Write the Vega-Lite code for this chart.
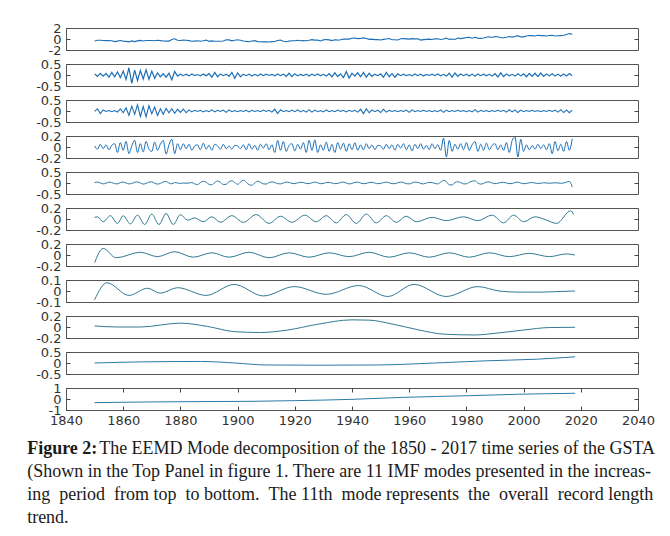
{
"$schema": "https://vega.github.io/schema/vega-lite/v6.json",
"padding": {"top": 21, "left": 27, "right": 5, "bottom": 5},
"background": "white",
"spacing": 14,
"bounds": "flush",
"title": {
  "text": "Figure 2:",
  "subtitle": [
    "\u200b\u00a0\u00a0\u00a0\u00a0\u00a0\u00a0\u00a0\u00a0\u00a0\u00a0\u00a0\u00a0\u00a0\u00a0\u00a0\u00a0The EEMD Mode decomposition of the 1850 - 2017 time series of the GSTA",
    "(Shown in the Top Panel in figure 1. There are 11 IMF modes presented in the increas-",
    "ing \u00a0period \u00a0from top \u00a0to bottom. \u00a0The 11th \u00a0mode represents \u00a0the \u00a0overall \u00a0record length",
    "trend."
  ],
  "orient": "bottom", "anchor": "start", "frame": "bounds", "dx": -8, "offset": 12,
  "font": "Liberation Serif", "fontSize": 18, "fontWeight": "bold", "color": "#1a1a1a", "lineHeight": 23.5,
  "subtitleFont": "Liberation Serif", "subtitleFontSize": 18, "subtitleColor": "#1a1a1a", "subtitleLineHeight": 23.3, "subtitlePadding": -18
},
"datasets": {
"p1": [{"t":1850,"v":-0.37},{"t":1851,"v":-0.22},{"t":1852,"v":-0.23},{"t":1853,"v":-0.27},{"t":1854,"v":-0.29},{"t":1855,"v":-0.3},{"t":1856,"v":-0.32},{"t":1857,"v":-0.47},{"t":1858,"v":-0.39},{"t":1859,"v":-0.28},{"t":1860,"v":-0.39},{"t":1861,"v":-0.43},{"t":1862,"v":-0.53},{"t":1863,"v":-0.34},{"t":1864,"v":-0.48},{"t":1865,"v":-0.34},{"t":1866,"v":-0.26},{"t":1867,"v":-0.36},{"t":1868,"v":-0.27},{"t":1869,"v":-0.27},{"t":1870,"v":-0.28},{"t":1871,"v":-0.33},{"t":1872,"v":-0.23},{"t":1873,"v":-0.29},{"t":1874,"v":-0.35},{"t":1875,"v":-0.39},{"t":1876,"v":-0.38},{"t":1877,"v":-0.1},{"t":1878,"v":0.05},{"t":1879,"v":-0.23},{"t":1880,"v":-0.28},{"t":1881,"v":-0.21},{"t":1882,"v":-0.24},{"t":1883,"v":-0.29},{"t":1884,"v":-0.42},{"t":1885,"v":-0.38},{"t":1886,"v":-0.33},{"t":1887,"v":-0.41},{"t":1888,"v":-0.33},{"t":1889,"v":-0.2},{"t":1890,"v":-0.42},{"t":1891,"v":-0.35},{"t":1892,"v":-0.41},{"t":1893,"v":-0.42},{"t":1894,"v":-0.4},{"t":1895,"v":-0.35},{"t":1896,"v":-0.15},{"t":1897,"v":-0.16},{"t":1898,"v":-0.34},{"t":1899,"v":-0.23},{"t":1900,"v":-0.15},{"t":1901,"v":-0.23},{"t":1902,"v":-0.35},{"t":1903,"v":-0.44},{"t":1904,"v":-0.5},{"t":1905,"v":-0.36},{"t":1906,"v":-0.3},{"t":1907,"v":-0.47},{"t":1908,"v":-0.51},{"t":1909,"v":-0.52},{"t":1910,"v":-0.5},{"t":1911,"v":-0.54},{"t":1912,"v":-0.47},{"t":1913,"v":-0.46},{"t":1914,"v":-0.26},{"t":1915,"v":-0.2},{"t":1916,"v":-0.42},{"t":1917,"v":-0.51},{"t":1918,"v":-0.38},{"t":1919,"v":-0.32},{"t":1920,"v":-0.31},{"t":1921,"v":-0.22},{"t":1922,"v":-0.31},{"t":1923,"v":-0.3},{"t":1924,"v":-0.31},{"t":1925,"v":-0.22},{"t":1926,"v":-0.11},{"t":1927,"v":-0.21},{"t":1928,"v":-0.2},{"t":1929,"v":-0.36},{"t":1930,"v":-0.16},{"t":1931,"v":-0.1},{"t":1932,"v":-0.16},{"t":1933,"v":-0.29},{"t":1934,"v":-0.13},{"t":1935,"v":-0.2},{"t":1936,"v":-0.15},{"t":1937,"v":-0.03},{"t":1938,"v":0.0},{"t":1939,"v":-0.02},{"t":1940,"v":0.13},{"t":1941,"v":0.19},{"t":1942,"v":0.07},{"t":1943,"v":0.09},{"t":1944,"v":0.21},{"t":1945,"v":0.09},{"t":1946,"v":-0.07},{"t":1947,"v":-0.03},{"t":1948,"v":-0.11},{"t":1949,"v":-0.11},{"t":1950,"v":-0.17},{"t":1951,"v":-0.07},{"t":1952,"v":0.01},{"t":1953,"v":0.08},{"t":1954,"v":-0.13},{"t":1955,"v":-0.14},{"t":1956,"v":-0.19},{"t":1957,"v":0.05},{"t":1958,"v":0.06},{"t":1959,"v":0.03},{"t":1960,"v":-0.03},{"t":1961,"v":0.06},{"t":1962,"v":0.03},{"t":1963,"v":0.05},{"t":1964,"v":-0.2},{"t":1965,"v":-0.11},{"t":1966,"v":-0.06},{"t":1967,"v":-0.02},{"t":1968,"v":-0.08},{"t":1969,"v":0.05},{"t":1970,"v":0.03},{"t":1971,"v":-0.08},{"t":1972,"v":0.01},{"t":1973,"v":0.16},{"t":1974,"v":-0.07},{"t":1975,"v":-0.01},{"t":1976,"v":-0.1},{"t":1977,"v":0.18},{"t":1978,"v":0.07},{"t":1979,"v":0.16},{"t":1980,"v":0.26},{"t":1981,"v":0.32},{"t":1982,"v":0.14},{"t":1983,"v":0.31},{"t":1984,"v":0.16},{"t":1985,"v":0.12},{"t":1986,"v":0.18},{"t":1987,"v":0.33},{"t":1988,"v":0.4},{"t":1989,"v":0.27},{"t":1990,"v":0.45},{"t":1991,"v":0.41},{"t":1992,"v":0.22},{"t":1993,"v":0.23},{"t":1994,"v":0.32},{"t":1995,"v":0.45},{"t":1996,"v":0.34},{"t":1997,"v":0.47},{"t":1998,"v":0.61},{"t":1999,"v":0.38},{"t":2000,"v":0.39},{"t":2001,"v":0.54},{"t":2002,"v":0.63},{"t":2003,"v":0.62},{"t":2004,"v":0.54},{"t":2005,"v":0.68},{"t":2006,"v":0.61},{"t":2007,"v":0.61},{"t":2008,"v":0.54},{"t":2009,"v":0.64},{"t":2010,"v":0.68},{"t":2011,"v":0.54},{"t":2012,"v":0.58},{"t":2013,"v":0.62},{"t":2014,"v":0.67},{"t":2015,"v":0.83},{"t":2016,"v":1.0},{"t":2017,"v":0.84}],
"p2": [{"t":1850,"v":0.05},{"t":1851,"v":-0.06},{"t":1852,"v":0.08},{"t":1853,"v":-0.05},{"t":1854,"v":0.07},{"t":1855,"v":-0.1},{"t":1856,"v":0.12},{"t":1857,"v":-0.08},{"t":1858,"v":0.14},{"t":1859,"v":-0.12},{"t":1860,"v":0.18},{"t":1861,"v":-0.2},{"t":1862,"v":0.33},{"t":1863,"v":-0.38},{"t":1864,"v":0.22},{"t":1865,"v":-0.25},{"t":1866,"v":0.2},{"t":1867,"v":-0.18},{"t":1868,"v":0.24},{"t":1869,"v":-0.2},{"t":1870,"v":0.17},{"t":1871,"v":-0.15},{"t":1872,"v":0.1},{"t":1873,"v":-0.08},{"t":1874,"v":0.06},{"t":1875,"v":-0.1},{"t":1876,"v":0.08},{"t":1877,"v":-0.22},{"t":1878,"v":0.16},{"t":1879,"v":-0.05},{"t":1880,"v":0.04},{"t":1881,"v":-0.03},{"t":1882,"v":0.04},{"t":1883,"v":-0.04},{"t":1884,"v":0.05},{"t":1885,"v":-0.03},{"t":1886,"v":0.02},{"t":1887,"v":-0.04},{"t":1888,"v":0.05},{"t":1889,"v":-0.03},{"t":1890,"v":0.06},{"t":1891,"v":-0.1},{"t":1892,"v":0.12},{"t":1893,"v":-0.08},{"t":1894,"v":0.05},{"t":1895,"v":-0.03},{"t":1896,"v":0.04},{"t":1897,"v":-0.06},{"t":1898,"v":0.12},{"t":1899,"v":-0.15},{"t":1900,"v":0.1},{"t":1901,"v":-0.08},{"t":1902,"v":0.04},{"t":1903,"v":-0.03},{"t":1904,"v":0.04},{"t":1905,"v":-0.05},{"t":1906,"v":0.03},{"t":1907,"v":-0.04},{"t":1908,"v":0.05},{"t":1909,"v":-0.03},{"t":1910,"v":0.04},{"t":1911,"v":-0.02},{"t":1912,"v":0.03},{"t":1913,"v":-0.04},{"t":1914,"v":0.05},{"t":1915,"v":-0.03},{"t":1916,"v":0.04},{"t":1917,"v":-0.06},{"t":1918,"v":0.08},{"t":1919,"v":-0.07},{"t":1920,"v":0.06},{"t":1921,"v":-0.04},{"t":1922,"v":0.03},{"t":1923,"v":-0.03},{"t":1924,"v":0.04},{"t":1925,"v":-0.05},{"t":1926,"v":0.04},{"t":1927,"v":-0.03},{"t":1928,"v":0.05},{"t":1929,"v":-0.04},{"t":1930,"v":0.03},{"t":1931,"v":-0.05},{"t":1932,"v":0.06},{"t":1933,"v":-0.08},{"t":1934,"v":0.1},{"t":1935,"v":-0.07},{"t":1936,"v":0.05},{"t":1937,"v":-0.12},{"t":1938,"v":0.16},{"t":1939,"v":-0.14},{"t":1940,"v":0.08},{"t":1941,"v":-0.05},{"t":1942,"v":0.1},{"t":1943,"v":-0.08},{"t":1944,"v":0.12},{"t":1945,"v":-0.1},{"t":1946,"v":0.08},{"t":1947,"v":-0.06},{"t":1948,"v":0.04},{"t":1949,"v":-0.03},{"t":1950,"v":0.05},{"t":1951,"v":-0.1},{"t":1952,"v":0.12},{"t":1953,"v":-0.08},{"t":1954,"v":0.06},{"t":1955,"v":-0.1},{"t":1956,"v":0.05},{"t":1957,"v":-0.03},{"t":1958,"v":0.04},{"t":1959,"v":-0.03},{"t":1960,"v":0.02},{"t":1961,"v":-0.04},{"t":1962,"v":0.05},{"t":1963,"v":-0.03},{"t":1964,"v":0.04},{"t":1965,"v":-0.05},{"t":1966,"v":0.03},{"t":1967,"v":-0.02},{"t":1968,"v":0.04},{"t":1969,"v":-0.03},{"t":1970,"v":0.05},{"t":1971,"v":-0.04},{"t":1972,"v":0.03},{"t":1973,"v":-0.05},{"t":1974,"v":0.08},{"t":1975,"v":-0.1},{"t":1976,"v":0.09},{"t":1977,"v":-0.06},{"t":1978,"v":0.05},{"t":1979,"v":-0.03},{"t":1980,"v":0.04},{"t":1981,"v":-0.05},{"t":1982,"v":0.04},{"t":1983,"v":-0.06},{"t":1984,"v":0.05},{"t":1985,"v":-0.03},{"t":1986,"v":0.04},{"t":1987,"v":-0.04},{"t":1988,"v":0.03},{"t":1989,"v":-0.05},{"t":1990,"v":0.06},{"t":1991,"v":-0.09},{"t":1992,"v":0.1},{"t":1993,"v":-0.07},{"t":1994,"v":0.05},{"t":1995,"v":-0.04},{"t":1996,"v":0.03},{"t":1997,"v":-0.05},{"t":1998,"v":0.06},{"t":1999,"v":-0.04},{"t":2000,"v":0.05},{"t":2001,"v":-0.08},{"t":2002,"v":0.07},{"t":2003,"v":-0.06},{"t":2004,"v":0.08},{"t":2005,"v":-0.07},{"t":2006,"v":0.09},{"t":2007,"v":-0.06},{"t":2008,"v":0.05},{"t":2009,"v":-0.04},{"t":2010,"v":0.06},{"t":2011,"v":-0.05},{"t":2012,"v":0.04},{"t":2013,"v":-0.06},{"t":2014,"v":0.05},{"t":2015,"v":-0.04},{"t":2016,"v":0.07},{"t":2017,"v":-0.03}],
"p3": [{"t":1850,"v":-0.02},{"t":1851,"v":0.1},{"t":1852,"v":-0.12},{"t":1853,"v":0.05},{"t":1854,"v":-0.02},{"t":1855,"v":0.02},{"t":1856,"v":-0.03},{"t":1857,"v":0.02},{"t":1858,"v":-0.05},{"t":1859,"v":0.1},{"t":1860,"v":-0.08},{"t":1861,"v":0.15},{"t":1862,"v":-0.2},{"t":1863,"v":0.22},{"t":1864,"v":-0.15},{"t":1865,"v":0.28},{"t":1866,"v":-0.25},{"t":1867,"v":0.2},{"t":1868,"v":-0.27},{"t":1869,"v":0.24},{"t":1870,"v":-0.12},{"t":1871,"v":0.18},{"t":1872,"v":-0.2},{"t":1873,"v":0.1},{"t":1874,"v":-0.15},{"t":1875,"v":0.12},{"t":1876,"v":-0.08},{"t":1877,"v":0.1},{"t":1878,"v":-0.1},{"t":1879,"v":0.08},{"t":1880,"v":-0.06},{"t":1881,"v":0.09},{"t":1882,"v":-0.08},{"t":1883,"v":0.05},{"t":1884,"v":-0.04},{"t":1885,"v":0.03},{"t":1886,"v":-0.02},{"t":1887,"v":0.03},{"t":1888,"v":-0.04},{"t":1889,"v":0.02},{"t":1890,"v":-0.03},{"t":1891,"v":0.05},{"t":1892,"v":-0.04},{"t":1893,"v":0.03},{"t":1894,"v":-0.02},{"t":1895,"v":0.04},{"t":1896,"v":-0.06},{"t":1897,"v":0.05},{"t":1898,"v":-0.03},{"t":1899,"v":0.02},{"t":1900,"v":-0.03},{"t":1901,"v":0.02},{"t":1902,"v":-0.02},{"t":1903,"v":0.03},{"t":1904,"v":-0.04},{"t":1905,"v":0.03},{"t":1906,"v":-0.02},{"t":1907,"v":0.02},{"t":1908,"v":-0.03},{"t":1909,"v":0.04},{"t":1910,"v":-0.02},{"t":1911,"v":0.03},{"t":1912,"v":-0.05},{"t":1913,"v":0.08},{"t":1914,"v":-0.12},{"t":1915,"v":0.06},{"t":1916,"v":-0.03},{"t":1917,"v":0.02},{"t":1918,"v":-0.03},{"t":1919,"v":0.04},{"t":1920,"v":-0.03},{"t":1921,"v":0.05},{"t":1922,"v":-0.04},{"t":1923,"v":0.03},{"t":1924,"v":-0.05},{"t":1925,"v":0.06},{"t":1926,"v":-0.05},{"t":1927,"v":0.04},{"t":1928,"v":-0.03},{"t":1929,"v":0.02},{"t":1930,"v":-0.04},{"t":1931,"v":0.05},{"t":1932,"v":-0.03},{"t":1933,"v":0.02},{"t":1934,"v":-0.03},{"t":1935,"v":0.04},{"t":1936,"v":-0.02},{"t":1937,"v":0.03},{"t":1938,"v":-0.04},{"t":1939,"v":0.03},{"t":1940,"v":-0.02},{"t":1941,"v":0.03},{"t":1942,"v":-0.05},{"t":1943,"v":0.08},{"t":1944,"v":-0.12},{"t":1945,"v":0.1},{"t":1946,"v":-0.08},{"t":1947,"v":0.05},{"t":1948,"v":-0.03},{"t":1949,"v":0.04},{"t":1950,"v":-0.07},{"t":1951,"v":0.08},{"t":1952,"v":-0.05},{"t":1953,"v":0.03},{"t":1954,"v":-0.02},{"t":1955,"v":0.02},{"t":1956,"v":-0.03},{"t":1957,"v":0.02},{"t":1958,"v":-0.02},{"t":1959,"v":0.04},{"t":1960,"v":-0.06},{"t":1961,"v":0.05},{"t":1962,"v":-0.03},{"t":1963,"v":0.02},{"t":1964,"v":-0.02},{"t":1965,"v":0.03},{"t":1966,"v":-0.02},{"t":1967,"v":0.02},{"t":1968,"v":-0.03},{"t":1969,"v":0.02},{"t":1970,"v":-0.03},{"t":1971,"v":0.05},{"t":1972,"v":-0.06},{"t":1973,"v":0.04},{"t":1974,"v":-0.03},{"t":1975,"v":0.02},{"t":1976,"v":-0.02},{"t":1977,"v":0.03},{"t":1978,"v":-0.02},{"t":1979,"v":0.02},{"t":1980,"v":-0.03},{"t":1981,"v":0.02},{"t":1982,"v":-0.04},{"t":1983,"v":0.06},{"t":1984,"v":-0.05},{"t":1985,"v":0.03},{"t":1986,"v":-0.02},{"t":1987,"v":0.02},{"t":1988,"v":-0.03},{"t":1989,"v":0.02},{"t":1990,"v":-0.02},{"t":1991,"v":0.03},{"t":1992,"v":-0.02},{"t":1993,"v":0.03},{"t":1994,"v":-0.05},{"t":1995,"v":0.06},{"t":1996,"v":-0.04},{"t":1997,"v":0.05},{"t":1998,"v":-0.07},{"t":1999,"v":0.04},{"t":2000,"v":-0.03},{"t":2001,"v":0.02},{"t":2002,"v":-0.02},{"t":2003,"v":0.03},{"t":2004,"v":-0.02},{"t":2005,"v":0.02},{"t":2006,"v":-0.03},{"t":2007,"v":0.02},{"t":2008,"v":-0.02},{"t":2009,"v":0.03},{"t":2010,"v":-0.02},{"t":2011,"v":0.04},{"t":2012,"v":-0.05},{"t":2013,"v":0.06},{"t":2014,"v":-0.07},{"t":2015,"v":0.05},{"t":2016,"v":-0.08},{"t":2017,"v":0.04}],
"p4": [{"t":1850,"v":0.02},{"t":1851,"v":-0.04},{"t":1852,"v":0.05},{"t":1853,"v":-0.03},{"t":1854,"v":0.04},{"t":1855,"v":-0.05},{"t":1856,"v":0.03},{"t":1857,"v":0.06},{"t":1858,"v":-0.1},{"t":1859,"v":0.08},{"t":1860,"v":-0.06},{"t":1861,"v":0.1},{"t":1862,"v":-0.12},{"t":1863,"v":0.02},{"t":1864,"v":0.12},{"t":1865,"v":-0.1},{"t":1866,"v":0.06},{"t":1867,"v":-0.09},{"t":1868,"v":0.1},{"t":1869,"v":-0.04},{"t":1870,"v":-0.08},{"t":1871,"v":0.09},{"t":1872,"v":-0.06},{"t":1873,"v":0.05},{"t":1874,"v":0.12},{"t":1875,"v":-0.13},{"t":1876,"v":0.04},{"t":1877,"v":0.14},{"t":1878,"v":-0.12},{"t":1879,"v":0.06},{"t":1880,"v":-0.05},{"t":1881,"v":0.06},{"t":1882,"v":-0.03},{"t":1883,"v":0.05},{"t":1884,"v":-0.06},{"t":1885,"v":0.02},{"t":1886,"v":0.04},{"t":1887,"v":-0.05},{"t":1888,"v":0.07},{"t":1889,"v":-0.04},{"t":1890,"v":0.03},{"t":1891,"v":-0.06},{"t":1892,"v":0.05},{"t":1893,"v":0.02},{"t":1894,"v":-0.04},{"t":1895,"v":0.05},{"t":1896,"v":-0.03},{"t":1897,"v":0.02},{"t":1898,"v":-0.04},{"t":1899,"v":0.03},{"t":1900,"v":0.02},{"t":1901,"v":-0.03},{"t":1902,"v":0.04},{"t":1903,"v":-0.05},{"t":1904,"v":0.06},{"t":1905,"v":-0.04},{"t":1906,"v":0.03},{"t":1907,"v":-0.06},{"t":1908,"v":0.05},{"t":1909,"v":-0.02},{"t":1910,"v":0.06},{"t":1911,"v":-0.05},{"t":1912,"v":0.04},{"t":1913,"v":-0.1},{"t":1914,"v":0.12},{"t":1915,"v":-0.06},{"t":1916,"v":0.1},{"t":1917,"v":-0.08},{"t":1918,"v":0.03},{"t":1919,"v":0.06},{"t":1920,"v":-0.07},{"t":1921,"v":0.05},{"t":1922,"v":-0.04},{"t":1923,"v":0.08},{"t":1924,"v":-0.1},{"t":1925,"v":0.12},{"t":1926,"v":-0.06},{"t":1927,"v":0.13},{"t":1928,"v":-0.1},{"t":1929,"v":0.04},{"t":1930,"v":-0.06},{"t":1931,"v":0.09},{"t":1932,"v":-0.08},{"t":1933,"v":0.05},{"t":1934,"v":-0.1},{"t":1935,"v":0.08},{"t":1936,"v":-0.04},{"t":1937,"v":0.07},{"t":1938,"v":-0.08},{"t":1939,"v":0.06},{"t":1940,"v":-0.05},{"t":1941,"v":0.08},{"t":1942,"v":-0.06},{"t":1943,"v":0.04},{"t":1944,"v":-0.05},{"t":1945,"v":0.06},{"t":1946,"v":-0.03},{"t":1947,"v":0.04},{"t":1948,"v":-0.05},{"t":1949,"v":0.03},{"t":1950,"v":0.02},{"t":1951,"v":-0.04},{"t":1952,"v":0.05},{"t":1953,"v":-0.03},{"t":1954,"v":0.04},{"t":1955,"v":-0.06},{"t":1956,"v":0.05},{"t":1957,"v":-0.02},{"t":1958,"v":0.06},{"t":1959,"v":-0.05},{"t":1960,"v":0.04},{"t":1961,"v":-0.07},{"t":1962,"v":0.05},{"t":1963,"v":-0.03},{"t":1964,"v":0.06},{"t":1965,"v":-0.04},{"t":1966,"v":0.03},{"t":1967,"v":-0.05},{"t":1968,"v":0.06},{"t":1969,"v":-0.03},{"t":1970,"v":0.04},{"t":1971,"v":-0.06},{"t":1972,"v":0.16},{"t":1973,"v":-0.18},{"t":1974,"v":0.12},{"t":1975,"v":-0.08},{"t":1976,"v":0.05},{"t":1977,"v":-0.04},{"t":1978,"v":0.06},{"t":1979,"v":-0.05},{"t":1980,"v":0.08},{"t":1981,"v":-0.06},{"t":1982,"v":0.04},{"t":1983,"v":0.1},{"t":1984,"v":-0.08},{"t":1985,"v":0.05},{"t":1986,"v":-0.06},{"t":1987,"v":0.07},{"t":1988,"v":-0.05},{"t":1989,"v":0.03},{"t":1990,"v":0.06},{"t":1991,"v":-0.05},{"t":1992,"v":0.04},{"t":1993,"v":-0.06},{"t":1994,"v":0.08},{"t":1995,"v":-0.1},{"t":1996,"v":0.12},{"t":1997,"v":0.18},{"t":1998,"v":-0.18},{"t":1999,"v":0.14},{"t":2000,"v":-0.08},{"t":2001,"v":0.04},{"t":2002,"v":-0.05},{"t":2003,"v":0.03},{"t":2004,"v":-0.04},{"t":2005,"v":0.05},{"t":2006,"v":-0.03},{"t":2007,"v":0.04},{"t":2008,"v":-0.05},{"t":2009,"v":0.06},{"t":2010,"v":-0.12},{"t":2011,"v":0.1},{"t":2012,"v":-0.07},{"t":2013,"v":0.05},{"t":2014,"v":-0.08},{"t":2015,"v":0.1},{"t":2016,"v":-0.06},{"t":2017,"v":0.15}],
"p5": [{"t":1850,"v":0.02},{"t":1851,"v":0.04},{"t":1852,"v":0.0},{"t":1853,"v":-0.04},{"t":1854,"v":-0.01},{"t":1855,"v":0.04},{"t":1856,"v":0.02},{"t":1857,"v":-0.03},{"t":1858,"v":-0.04},{"t":1859,"v":0.02},{"t":1860,"v":0.04},{"t":1861,"v":0.0},{"t":1862,"v":-0.04},{"t":1863,"v":-0.02},{"t":1864,"v":0.03},{"t":1865,"v":0.05},{"t":1866,"v":0.0},{"t":1867,"v":-0.05},{"t":1868,"v":-0.02},{"t":1869,"v":0.04},{"t":1870,"v":0.05},{"t":1871,"v":-0.01},{"t":1872,"v":-0.05},{"t":1873,"v":-0.02},{"t":1874,"v":0.05},{"t":1875,"v":0.07},{"t":1876,"v":0.0},{"t":1877,"v":-0.04},{"t":1878,"v":0.02},{"t":1879,"v":0.0},{"t":1880,"v":-0.02},{"t":1881,"v":0.0},{"t":1882,"v":-0.01},{"t":1883,"v":0.0},{"t":1884,"v":0.02},{"t":1885,"v":-0.04},{"t":1886,"v":-0.07},{"t":1887,"v":0.02},{"t":1888,"v":0.08},{"t":1889,"v":0.04},{"t":1890,"v":-0.06},{"t":1891,"v":-0.08},{"t":1892,"v":0.02},{"t":1893,"v":0.09},{"t":1894,"v":0.03},{"t":1895,"v":-0.07},{"t":1896,"v":-0.06},{"t":1897,"v":0.06},{"t":1898,"v":0.1},{"t":1899,"v":0.02},{"t":1900,"v":-0.06},{"t":1901,"v":0.04},{"t":1902,"v":0.12},{"t":1903,"v":0.05},{"t":1904,"v":-0.08},{"t":1905,"v":-0.1},{"t":1906,"v":0.0},{"t":1907,"v":0.08},{"t":1908,"v":0.03},{"t":1909,"v":-0.04},{"t":1910,"v":-0.05},{"t":1911,"v":0.02},{"t":1912,"v":0.05},{"t":1913,"v":0.02},{"t":1914,"v":-0.03},{"t":1915,"v":-0.04},{"t":1916,"v":0.0},{"t":1917,"v":0.04},{"t":1918,"v":0.03},{"t":1919,"v":-0.02},{"t":1920,"v":-0.03},{"t":1921,"v":0.01},{"t":1922,"v":0.03},{"t":1923,"v":0.02},{"t":1924,"v":-0.02},{"t":1925,"v":-0.03},{"t":1926,"v":0.01},{"t":1927,"v":0.04},{"t":1928,"v":0.01},{"t":1929,"v":-0.03},{"t":1930,"v":-0.02},{"t":1931,"v":0.02},{"t":1932,"v":0.03},{"t":1933,"v":0.0},{"t":1934,"v":-0.03},{"t":1935,"v":-0.02},{"t":1936,"v":0.02},{"t":1937,"v":0.04},{"t":1938,"v":0.0},{"t":1939,"v":-0.04},{"t":1940,"v":-0.02},{"t":1941,"v":0.03},{"t":1942,"v":0.04},{"t":1943,"v":0.0},{"t":1944,"v":-0.03},{"t":1945,"v":-0.02},{"t":1946,"v":0.02},{"t":1947,"v":0.03},{"t":1948,"v":0.0},{"t":1949,"v":-0.03},{"t":1950,"v":-0.02},{"t":1951,"v":0.02},{"t":1952,"v":0.04},{"t":1953,"v":0.01},{"t":1954,"v":-0.03},{"t":1955,"v":-0.03},{"t":1956,"v":0.01},{"t":1957,"v":0.04},{"t":1958,"v":0.02},{"t":1959,"v":-0.03},{"t":1960,"v":-0.04},{"t":1961,"v":0.0},{"t":1962,"v":0.04},{"t":1963,"v":0.03},{"t":1964,"v":-0.02},{"t":1965,"v":-0.04},{"t":1966,"v":0.0},{"t":1967,"v":0.03},{"t":1968,"v":0.02},{"t":1969,"v":-0.02},{"t":1970,"v":-0.04},{"t":1971,"v":0.04},{"t":1972,"v":0.12},{"t":1973,"v":0.06},{"t":1974,"v":-0.08},{"t":1975,"v":-0.09},{"t":1976,"v":0.02},{"t":1977,"v":0.06},{"t":1978,"v":0.02},{"t":1979,"v":-0.04},{"t":1980,"v":-0.04},{"t":1981,"v":0.03},{"t":1982,"v":0.08},{"t":1983,"v":0.1},{"t":1984,"v":0.0},{"t":1985,"v":-0.05},{"t":1986,"v":-0.02},{"t":1987,"v":0.04},{"t":1988,"v":0.05},{"t":1989,"v":0.0},{"t":1990,"v":-0.03},{"t":1991,"v":-0.01},{"t":1992,"v":0.02},{"t":1993,"v":0.03},{"t":1994,"v":0.0},{"t":1995,"v":-0.03},{"t":1996,"v":-0.02},{"t":1997,"v":0.02},{"t":1998,"v":0.04},{"t":1999,"v":0.0},{"t":2000,"v":-0.03},{"t":2001,"v":-0.02},{"t":2002,"v":0.01},{"t":2003,"v":0.02},{"t":2004,"v":0.0},{"t":2005,"v":-0.02},{"t":2006,"v":-0.01},{"t":2007,"v":0.01},{"t":2008,"v":0.0},{"t":2009,"v":-0.01},{"t":2010,"v":0.0},{"t":2011,"v":0.01},{"t":2012,"v":0.0},{"t":2013,"v":-0.01},{"t":2014,"v":0.0},{"t":2015,"v":0.04},{"t":2016,"v":0.07},{"t":2017,"v":-0.18}],
"p6": [{"t":1850,"v":0.03},{"t":1851,"v":0.04},{"t":1853,"v":-0.05},{"t":1855.5,"v":0.06},{"t":1858,"v":-0.08},{"t":1860,"v":0.06},{"t":1862.5,"v":-0.09},{"t":1865,"v":0.07},{"t":1867.5,"v":-0.1},{"t":1870,"v":0.09},{"t":1872.5,"v":-0.1},{"t":1875,"v":0.1},{"t":1877.5,"v":-0.1},{"t":1880,"v":0.08},{"t":1882.5,"v":-0.02},{"t":1885,"v":0.02},{"t":1888,"v":-0.05},{"t":1891,"v":0.04},{"t":1894,"v":-0.06},{"t":1898,"v":0.06},{"t":1902,"v":-0.06},{"t":1906.5,"v":0.08},{"t":1911,"v":-0.08},{"t":1915,"v":0.05},{"t":1919,"v":-0.06},{"t":1923.5,"v":0.07},{"t":1927.5,"v":-0.05},{"t":1931,"v":0.06},{"t":1934.5,"v":-0.07},{"t":1938,"v":0.08},{"t":1941.5,"v":-0.08},{"t":1945,"v":0.09},{"t":1948.5,"v":-0.07},{"t":1952,"v":0.06},{"t":1955.5,"v":-0.06},{"t":1959,"v":0.05},{"t":1962.5,"v":-0.05},{"t":1968,"v":0.03},{"t":1973,"v":-0.03},{"t":1979,"v":0.04},{"t":1984,"v":-0.03},{"t":1989,"v":0.07},{"t":1993,"v":-0.07},{"t":1996.5,"v":0.07},{"t":2000,"v":-0.05},{"t":2004,"v":0.04},{"t":2008,"v":-0.02},{"t":2011.5,"v":-0.08},{"t":2016.5,"v":0.15},{"t":2017.5,"v":0.08}],
"p7": [{"t":1850,"v":-0.14},{"t":1853,"v":0.12},{"t":1857.5,"v":-0.05},{"t":1866,"v":0.05},{"t":1872,"v":-0.03},{"t":1878,"v":0.06},{"t":1884.5,"v":-0.04},{"t":1891,"v":0.04},{"t":1897,"v":-0.04},{"t":1904,"v":0.05},{"t":1911,"v":-0.05},{"t":1918,"v":0.04},{"t":1925,"v":-0.04},{"t":1932,"v":0.04},{"t":1939,"v":-0.03},{"t":1946,"v":0.05},{"t":1953,"v":-0.04},{"t":1960,"v":0.04},{"t":1967,"v":-0.04},{"t":1974,"v":0.04},{"t":1981,"v":-0.04},{"t":1988,"v":0.04},{"t":1995,"v":-0.03},{"t":2002,"v":0.03},{"t":2009,"v":-0.03},{"t":2015,"v":0.02},{"t":2018,"v":0.0}],
"p8": [{"t":1850,"v":-0.08},{"t":1854.3,"v":0.075},{"t":1862,"v":-0.04},{"t":1868.5,"v":0.025},{"t":1873,"v":-0.02},{"t":1879,"v":0.03},{"t":1889,"v":-0.04},{"t":1898.8,"v":0.06},{"t":1909,"v":-0.045},{"t":1919.8,"v":0.04},{"t":1931,"v":-0.03},{"t":1942.4,"v":0.05},{"t":1952.5,"v":-0.05},{"t":1961.7,"v":0.06},{"t":1972.9,"v":-0.05},{"t":1984,"v":0.04},{"t":1991.4,"v":0.0},{"t":1998,"v":-0.01},{"t":2006,"v":-0.01},{"t":2012,"v":-0.005},{"t":2018,"v":0.0}],
"p9": [{"t":1850,"v":0.02},{"t":1858,"v":0.0},{"t":1866,"v":0.0},{"t":1880,"v":0.07},{"t":1889.5,"v":0.01},{"t":1899,"v":-0.085},{"t":1908,"v":-0.1},{"t":1917.5,"v":-0.055},{"t":1928,"v":0.05},{"t":1940,"v":0.13},{"t":1946,"v":0.125},{"t":1954,"v":0.055},{"t":1963.5,"v":-0.055},{"t":1972,"v":-0.13},{"t":1983,"v":-0.145},{"t":1990,"v":-0.115},{"t":2000,"v":-0.055},{"t":2009,"v":-0.01},{"t":2018,"v":-0.005}],
"p10": [{"t":1850,"v":0.0},{"t":1866,"v":0.05},{"t":1887,"v":0.07},{"t":1899,"v":0.0},{"t":1910,"v":-0.09},{"t":1928,"v":-0.1},{"t":1949,"v":-0.09},{"t":1969,"v":0.0},{"t":1987,"v":0.1},{"t":2004,"v":0.17},{"t":2018,"v":0.28}],
"p11": [{"t":1850,"v":-0.33},{"t":1868,"v":-0.27},{"t":1885,"v":-0.24},{"t":1905,"v":-0.21},{"t":1920,"v":-0.15},{"t":1940,"v":-0.03},{"t":1958,"v":0.15},{"t":1981,"v":0.3},{"t":1998,"v":0.43},{"t":2018,"v":0.52}]
},
"vconcat": [
{"width": 572, "height": 22, "data": {"name": "p1"}, "resolve": {"axis": {"y": "independent"}}, "layer": [
 {"mark": {"type": "line", "color": "#1c6fb6", "strokeWidth": 1.1, "clip": true}, "encoding": {"x": {"field": "t", "type": "quantitative", "title": null, "scale": {"domain": [1840, 2040], "nice": false, "zero": false}, "axis": null}, "y": {"field": "v", "type": "quantitative", "title": null, "scale": {"domain": [-2, 2], "nice": false, "zero": false}, "axis": {"values": [-2, 0, 2], "labelExpr": "toString(datum.value)"}}}},
 {"data": {"values": [{}]}, "mark": {"type": "point", "opacity": 0}, "encoding": {"x": {"datum": 1900, "type": "quantitative", "axis": null}, "y": {"datum": 0, "type": "quantitative", "title": null, "axis": {"orient": "right", "values": [0], "labels": false}}}}]},
{"width": 572, "height": 22, "data": {"name": "p2"}, "resolve": {"axis": {"y": "independent"}}, "layer": [
 {"mark": {"type": "line", "color": "#1c6fb6", "strokeWidth": 1.2, "clip": true}, "encoding": {"x": {"field": "t", "type": "quantitative", "title": null, "scale": {"domain": [1840, 2040], "nice": false, "zero": false}, "axis": null}, "y": {"field": "v", "type": "quantitative", "title": null, "scale": {"domain": [-0.5, 0.5], "nice": false, "zero": false}, "axis": {"values": [-0.5, 0, 0.5], "labelExpr": "toString(datum.value)"}}}},
 {"data": {"values": [{}]}, "mark": {"type": "point", "opacity": 0}, "encoding": {"x": {"datum": 1900, "type": "quantitative", "axis": null}, "y": {"datum": 0, "type": "quantitative", "title": null, "axis": {"orient": "right", "values": [0], "labels": false}}}}]},
{"width": 572, "height": 22, "data": {"name": "p3"}, "resolve": {"axis": {"y": "independent"}}, "layer": [
 {"mark": {"type": "line", "color": "#1c6fb6", "strokeWidth": 1.1, "clip": true}, "encoding": {"x": {"field": "t", "type": "quantitative", "title": null, "scale": {"domain": [1840, 2040], "nice": false, "zero": false}, "axis": null}, "y": {"field": "v", "type": "quantitative", "title": null, "scale": {"domain": [-0.5, 0.5], "nice": false, "zero": false}, "axis": {"values": [-0.5, 0, 0.5], "labelExpr": "toString(datum.value)"}}}},
 {"data": {"values": [{}]}, "mark": {"type": "point", "opacity": 0}, "encoding": {"x": {"datum": 1900, "type": "quantitative", "axis": null}, "y": {"datum": 0, "type": "quantitative", "title": null, "axis": {"orient": "right", "values": [0], "labels": false}}}}]},
{"width": 572, "height": 22, "data": {"name": "p4"}, "resolve": {"axis": {"y": "independent"}}, "layer": [
 {"mark": {"type": "line", "color": "#1c6fb6", "strokeWidth": 1, "interpolate": "monotone", "clip": true}, "encoding": {"x": {"field": "t", "type": "quantitative", "title": null, "scale": {"domain": [1840, 2040], "nice": false, "zero": false}, "axis": null}, "y": {"field": "v", "type": "quantitative", "title": null, "scale": {"domain": [-0.2, 0.2], "nice": false, "zero": false}, "axis": {"values": [-0.2, 0, 0.2], "labelExpr": "toString(datum.value)"}}}},
 {"data": {"values": [{}]}, "mark": {"type": "point", "opacity": 0}, "encoding": {"x": {"datum": 1900, "type": "quantitative", "axis": null}, "y": {"datum": 0, "type": "quantitative", "title": null, "axis": {"orient": "right", "values": [0], "labels": false}}}}]},
{"width": 572, "height": 22, "data": {"name": "p5"}, "resolve": {"axis": {"y": "independent"}}, "layer": [
 {"mark": {"type": "line", "color": "#2a7aa8", "strokeWidth": 1, "interpolate": "monotone", "clip": true}, "encoding": {"x": {"field": "t", "type": "quantitative", "title": null, "scale": {"domain": [1840, 2040], "nice": false, "zero": false}, "axis": null}, "y": {"field": "v", "type": "quantitative", "title": null, "scale": {"domain": [-0.5, 0.5], "nice": false, "zero": false}, "axis": {"values": [-0.5, 0, 0.5], "labelExpr": "toString(datum.value)"}}}},
 {"data": {"values": [{}]}, "mark": {"type": "point", "opacity": 0}, "encoding": {"x": {"datum": 1900, "type": "quantitative", "axis": null}, "y": {"datum": 0, "type": "quantitative", "title": null, "axis": {"orient": "right", "values": [0], "labels": false}}}}]},
{"width": 572, "height": 22, "data": {"name": "p6"}, "resolve": {"axis": {"y": "independent"}}, "layer": [
 {"mark": {"type": "line", "color": "#337a93", "strokeWidth": 1, "interpolate": "monotone", "clip": true}, "encoding": {"x": {"field": "t", "type": "quantitative", "title": null, "scale": {"domain": [1840, 2040], "nice": false, "zero": false}, "axis": null}, "y": {"field": "v", "type": "quantitative", "title": null, "scale": {"domain": [-0.2, 0.2], "nice": false, "zero": false}, "axis": {"values": [-0.2, 0, 0.2], "labelExpr": "toString(datum.value)"}}}},
 {"data": {"values": [{}]}, "mark": {"type": "point", "opacity": 0}, "encoding": {"x": {"datum": 1900, "type": "quantitative", "axis": null}, "y": {"datum": 0, "type": "quantitative", "title": null, "axis": {"orient": "right", "values": [0], "labels": false}}}}]},
{"width": 572, "height": 22, "data": {"name": "p7"}, "resolve": {"axis": {"y": "independent"}}, "layer": [
 {"mark": {"type": "line", "color": "#337a93", "strokeWidth": 1, "interpolate": "monotone", "clip": true}, "encoding": {"x": {"field": "t", "type": "quantitative", "title": null, "scale": {"domain": [1840, 2040], "nice": false, "zero": false}, "axis": null}, "y": {"field": "v", "type": "quantitative", "title": null, "scale": {"domain": [-0.2, 0.2], "nice": false, "zero": false}, "axis": {"values": [-0.2, 0, 0.2], "labelExpr": "toString(datum.value)"}}}},
 {"data": {"values": [{}]}, "mark": {"type": "point", "opacity": 0}, "encoding": {"x": {"datum": 1900, "type": "quantitative", "axis": null}, "y": {"datum": 0, "type": "quantitative", "title": null, "axis": {"orient": "right", "values": [0], "labels": false}}}}]},
{"width": 572, "height": 22, "data": {"name": "p8"}, "resolve": {"axis": {"y": "independent"}}, "layer": [
 {"mark": {"type": "line", "color": "#337a93", "strokeWidth": 1, "interpolate": "monotone", "clip": true}, "encoding": {"x": {"field": "t", "type": "quantitative", "title": null, "scale": {"domain": [1840, 2040], "nice": false, "zero": false}, "axis": null}, "y": {"field": "v", "type": "quantitative", "title": null, "scale": {"domain": [-0.1, 0.1], "nice": false, "zero": false}, "axis": {"values": [-0.1, 0, 0.1], "labelExpr": "toString(datum.value)"}}}},
 {"data": {"values": [{}]}, "mark": {"type": "point", "opacity": 0}, "encoding": {"x": {"datum": 1900, "type": "quantitative", "axis": null}, "y": {"datum": 0, "type": "quantitative", "title": null, "axis": {"orient": "right", "values": [0], "labels": false}}}}]},
{"width": 572, "height": 22, "data": {"name": "p9"}, "resolve": {"axis": {"y": "independent"}}, "layer": [
 {"mark": {"type": "line", "color": "#337a93", "strokeWidth": 1, "interpolate": "monotone", "clip": true}, "encoding": {"x": {"field": "t", "type": "quantitative", "title": null, "scale": {"domain": [1840, 2040], "nice": false, "zero": false}, "axis": null}, "y": {"field": "v", "type": "quantitative", "title": null, "scale": {"domain": [-0.2, 0.2], "nice": false, "zero": false}, "axis": {"values": [-0.2, 0, 0.2], "labelExpr": "toString(datum.value)"}}}},
 {"data": {"values": [{}]}, "mark": {"type": "point", "opacity": 0}, "encoding": {"x": {"datum": 1900, "type": "quantitative", "axis": null}, "y": {"datum": 0, "type": "quantitative", "title": null, "axis": {"orient": "right", "values": [0], "labels": false}}}}]},
{"width": 572, "height": 22, "data": {"name": "p10"}, "resolve": {"axis": {"y": "independent"}}, "layer": [
 {"mark": {"type": "line", "color": "#2a7aa8", "strokeWidth": 1, "interpolate": "monotone", "clip": true}, "encoding": {"x": {"field": "t", "type": "quantitative", "title": null, "scale": {"domain": [1840, 2040], "nice": false, "zero": false}, "axis": null}, "y": {"field": "v", "type": "quantitative", "title": null, "scale": {"domain": [-0.5, 0.5], "nice": false, "zero": false}, "axis": {"values": [-0.5, 0, 0.5], "labelExpr": "toString(datum.value)"}}}},
 {"data": {"values": [{}]}, "mark": {"type": "point", "opacity": 0}, "encoding": {"x": {"datum": 1900, "type": "quantitative", "axis": null}, "y": {"datum": 0, "type": "quantitative", "title": null, "axis": {"orient": "right", "values": [0], "labels": false}}}}]},
{"width": 572, "height": 22, "data": {"name": "p11"}, "resolve": {"axis": {"x": "independent", "y": "independent"}}, "layer": [
 {"mark": {"type": "line", "color": "#2a7aa8", "strokeWidth": 1, "interpolate": "monotone", "clip": true}, "encoding": {"x": {"field": "t", "type": "quantitative", "title": null, "scale": {"domain": [1840, 2040], "nice": false, "zero": false}, "axis": {"values": [1840, 1860, 1880, 1900, 1920, 1940, 1960, 1980, 2000, 2020, 2040], "labelExpr": "toString(datum.value)"}}, "y": {"field": "v", "type": "quantitative", "title": null, "scale": {"domain": [-1, 1], "nice": false, "zero": false}, "axis": {"values": [-1, 0, 1], "labelExpr": "toString(datum.value)"}}}},
 {"data": {"values": [{}]}, "mark": {"type": "point", "opacity": 0}, "encoding": {"x": {"datum": 1900, "type": "quantitative", "title": null, "axis": {"orient": "top", "values": [1860, 1880, 1900, 1920, 1940, 1960, 1980, 2000, 2020], "labels": false}}, "y": {"datum": 0, "type": "quantitative", "title": null, "axis": {"orient": "right", "values": [0], "labels": false}}}}]}
],
"config": {
  "view": {"stroke": "#555", "strokeWidth": 1},
  "axis": {"grid": false, "domain": false, "labelFont": "DejaVu Sans", "labelFontSize": 13, "labelColor": "#333", "tickColor": "#444", "tickSize": -4, "labelOverlap": false, "labelFlush": false, "labelPadding": 9},
  "axisX": {"labelPadding": 8}
}
}
